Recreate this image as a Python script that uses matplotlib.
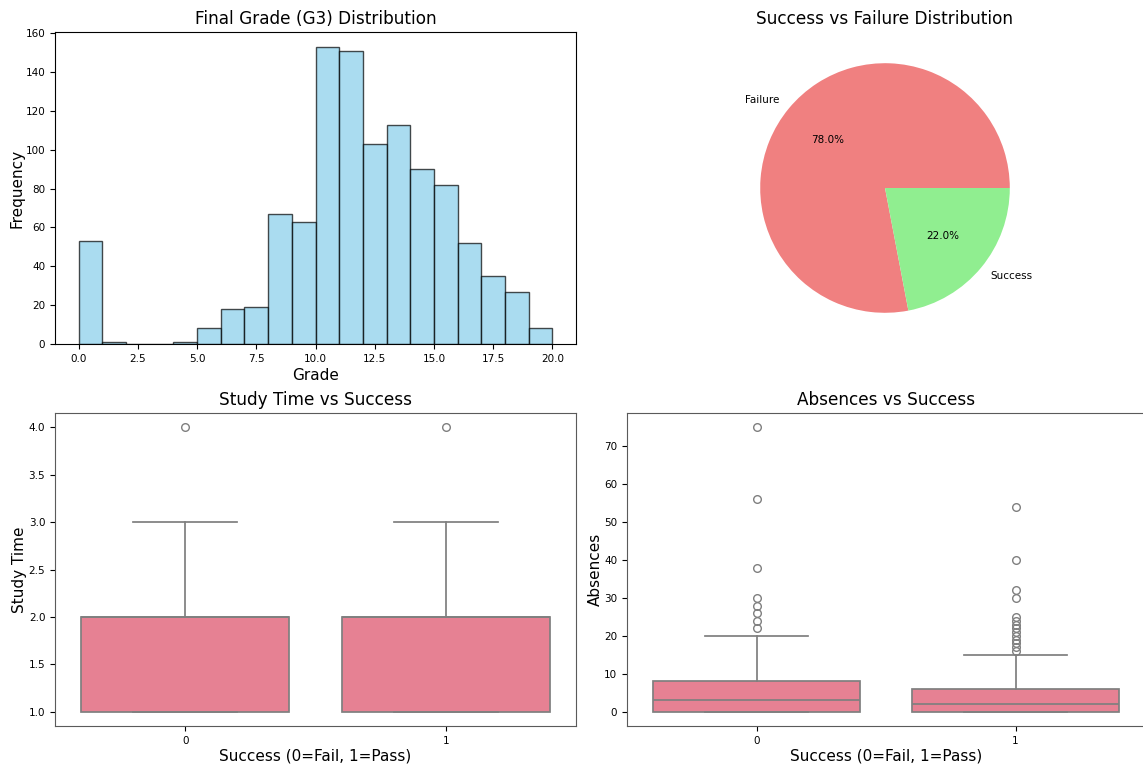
import matplotlib
matplotlib.use("Agg")
import matplotlib.pyplot as plt
import numpy as np

# G3 histogram: one bin per grade point, 0..20
grade_edges = np.arange(0, 21, 1)
grade_counts = [53, 1, 0, 0, 1, 8, 18, 19, 67, 63,
                153, 151, 103, 113, 90, 82, 52, 35, 27, 8]

# pass / fail split
pie_labels = ["Failure", "Success"]
pie_shares = [78.0, 22.0]
pie_colors = ["lightcoral", "lightgreen"]

# box summaries per success group (0 = fail, 1 = pass)
groups = [0, 1]
study_q1 = [1, 1]
study_med = [2, 2]
study_q3 = [2, 2]
study_lo = [1, 1]
study_hi = [3, 3]
study_fliers = [[4], [4]]

abs_q1 = [0, 0]
abs_med = [3, 2]
abs_q3 = [8, 6]
abs_lo = [0, 0]
abs_hi = [20, 15]
abs_fliers = [[22, 24, 26, 28, 30, 38, 56, 75],
              [16, 17, 18, 19, 20, 21, 22, 23, 24, 25, 30, 32, 40, 54]]

BOX_FACE = "#e68193"   # husl red, desaturated like seaborn
BOX_LINE = "#7f7f7f"

W, H = 1143, 765
fig = plt.figure(figsize=(W / 100, H / 100), dpi=100)


def px_axes(left, top, right, bottom):
    return fig.add_axes([left / W, 1 - bottom / H, (right - left) / W, (bottom - top) / H])


TICK = 7.5
LABEL = 11
TITLE = 12.2

# 1) histogram of final grade
ax1 = px_axes(55, 32, 576, 344)
ax1.hist(grade_edges[:-1], bins=grade_edges, weights=grade_counts,
         color="skyblue", edgecolor="black", alpha=0.7)
ax1.set_title("Final Grade (G3) Distribution", fontsize=TITLE)
ax1.set_xlabel("Grade", fontsize=LABEL, labelpad=3)
ax1.set_ylabel("Frequency", fontsize=LABEL, labelpad=1)
ax1.tick_params(labelsize=TICK)

# 2) pie of success vs failure
ax2 = px_axes(627, 32, 1143, 344)
ax2.pie(pie_shares, labels=pie_labels, autopct="%1.1f%%", colors=pie_colors,
        textprops={"fontsize": 7.5})
ax2.set_title("Success vs Failure Distribution", fontsize=TITLE)


def stats_for(q1, med, q3, lo, hi, fl):
    return [dict(q1=q1[i], med=med[i], q3=q3[i], whislo=lo[i], whishi=hi[i], fliers=fl[i])
            for i in range(len(groups))]


def draw_box(ax, stats, ylabel, title):
    ax.bxp(stats, positions=groups, widths=0.8, capwidths=0.4, patch_artist=True,
           boxprops=dict(facecolor=BOX_FACE, edgecolor=BOX_LINE, linewidth=1.25),
           medianprops=dict(color=BOX_LINE, linewidth=1.25),
           whiskerprops=dict(color=BOX_LINE, linewidth=1.25),
           capprops=dict(color=BOX_LINE, linewidth=1.25),
           flierprops=dict(marker="o", markerfacecolor="none", markeredgecolor=BOX_LINE,
                           markersize=5.5, markeredgewidth=1.0))
    ax.set_xlim(-0.5, 1.5)
    ax.set_xticks(groups)
    ax.set_xticklabels([str(g) for g in groups])
    ax.set_title(title, fontsize=TITLE)
    ax.set_xlabel("Success (0=Fail, 1=Pass)", fontsize=LABEL, labelpad=2)
    ax.set_ylabel(ylabel, fontsize=LABEL, labelpad=1)
    ax.tick_params(labelsize=TICK)
    for sp in ax.spines.values():
        sp.set_color("#5a5a5a")


ax3 = px_axes(55, 413, 576, 726)
draw_box(ax3, stats_for(study_q1, study_med, study_q3, study_lo, study_hi, study_fliers),
         "Study Time", "Study Time vs Success")

ax4 = px_axes(627, 413, 1145, 726)
draw_box(ax4, stats_for(abs_q1, abs_med, abs_q3, abs_lo, abs_hi, abs_fliers),
         "Absences", "Absences vs Success")

fig.savefig("out.png", dpi=100, facecolor="white")
